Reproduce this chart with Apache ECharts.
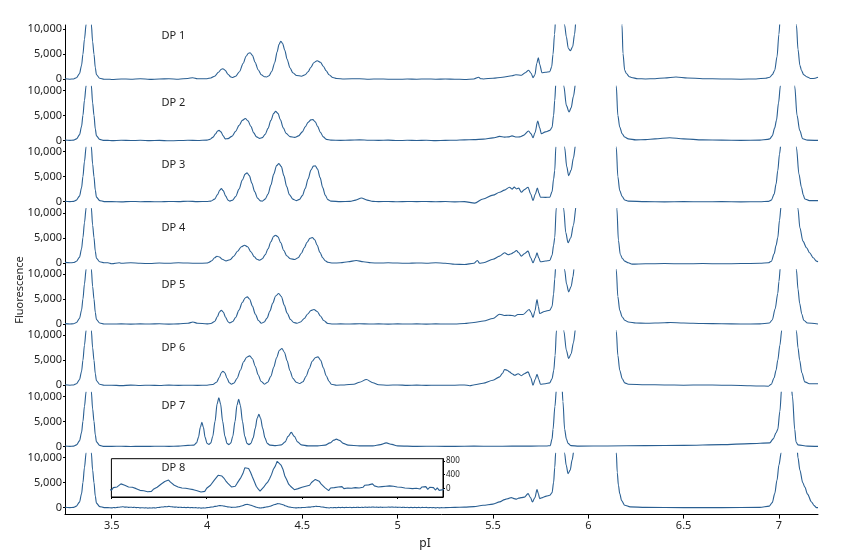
<!DOCTYPE html>
<html>
<head>
<meta charset="utf-8">
<script src="https://cdn.jsdelivr.net/npm/echarts@6/dist/echarts.min.js"></script>
<style>
html,body{margin:0;padding:0;background:#fff;}
#chart{width:862px;height:556px;}
</style>
</head>
<body>
<div id="chart"></div>
<script>
// ---------------- DATA ----------------
const panelNames = ['DP 1', 'DP 2', 'DP 3', 'DP 4', 'DP 5', 'DP 6', 'DP 7', 'DP 8'];
const xTickValues = [3.5, 4, 4.5, 5, 5.5, 6, 6.5, 7];
const yTickValues = [0, 5000, 10000];
const insetTickValues = [0, 400, 800];
const insetXTicks = [3.5, 4, 4.5, 5];

// pI 3.38 marker peak (common to all traces)
const markerPeak = [[3.255, 80], [3.28, 0], [3.30, 50], [3.315, 300], [3.331, 1100], [3.342, 2800], [3.349, 5000], [3.357, 8000], [3.366, 11000], [3.379, 22000], [3.393, 11000], [3.400, 7500], [3.407, 5000], [3.414, 2300], [3.42, 900], [3.437, 200], [3.46, 0]];

const dp1 = [[3.5, -50], [3.55, 50], [3.6, 0], [3.65, 80], [3.7, -30], [3.75, 40], [3.8, 100], [3.85, 0], [3.9, 150], [3.925, 300], [3.95, 100], [4.0, 100],
  [4.02, 250], [4.04, 600], [4.06, 1400], [4.075, 2000], [4.083, 2100], [4.095, 1800], [4.11, 1000], [4.125, 450], [4.135, 350], [4.15, 600], [4.17, 1500], [4.19, 3200], [4.205, 4600], [4.217, 5200], [4.226, 5300], [4.238, 4800], [4.252, 3400], [4.268, 1900], [4.285, 900], [4.30, 500], [4.312, 450], [4.325, 700], [4.34, 1600], [4.355, 3300], [4.368, 5500], [4.378, 7000], [4.387, 7600], [4.396, 7200], [4.408, 5800], [4.42, 4000], [4.435, 2300], [4.45, 1300], [4.47, 750], [4.495, 600], [4.515, 900], [4.53, 1500], [4.545, 2400], [4.56, 3300], [4.578, 3700], [4.595, 3400], [4.61, 2600], [4.625, 1700], [4.64, 900], [4.66, 350], [4.68, 150], [4.72, 50], [4.8, 100], [4.85, 0],
  [4.9, 50], [4.95, 0], [5.0, -20], [5.05, 30], [5.1, 0], [5.15, 50], [5.2, 0], [5.25, 30], [5.3, 0], [5.35, -50], [5.4, 50], [5.425, 400], [5.435, 100], [5.45, 50], [5.5, 200], [5.55, 400], [5.6, 700], [5.62, 900], [5.65, 800], [5.67, 1300], [5.687, 1800], [5.7, 1200], [5.71, 300], [5.72, 900], [5.73, 3200], [5.738, 4300], [5.745, 3000], [5.757, 1300], [5.775, 1400], [5.798, 1500], [5.808, 2500], [5.815, 5000], [5.823, 9000], [5.83, 13000], [5.85, 30000], [5.87, 12000], [5.876, 10800], [5.885, 8470], [5.895, 6200], [5.906, 5700], [5.918, 6500], [5.928, 9000], [5.936, 12000], [5.95, 40000], [6.1, 40000], [6.17, 16000], [6.177, 10800], [6.182, 5130], [6.191, 1800], [6.2, 1130], [6.215, 500], [6.226, 340], [6.26, 100], [6.3, 50], [6.35, 100], [6.4, 250], [6.46, 450], [6.52, 250], [6.6, 100], [6.7, 50], [6.8, 0], [6.88, 50], [6.93, 200], [6.952, 400], [6.965, 900], [6.978, 1800], [6.99, 4500], [7.0, 9000], [7.008, 13000], [7.045, 40000], [7.085, 14000], [7.092, 10800], [7.1, 6000], [7.11, 2800], [7.118, 1800], [7.13, 900], [7.145, 500], [7.153, 400], [7.165, 150], [7.18, 150], [7.205, 400]];

const dp2 = [[3.5, -50], [3.55, 30], [3.6, -30], [3.65, 20], [3.7, -50], [3.75, 0], [3.8, -80], [3.85, -30], [3.9, 20], [3.95, -20], [4.0, 50],
  [4.015, 200], [4.03, 600], [4.045, 1300], [4.055, 1850], [4.063, 2000], [4.073, 1700], [4.085, 900], [4.096, 300], [4.11, 350], [4.13, 800], [4.15, 1800], [4.168, 3000], [4.185, 4000], [4.201, 4370], [4.215, 3900], [4.23, 2800], [4.245, 1500], [4.26, 700], [4.276, 400], [4.29, 550], [4.305, 1200], [4.32, 2400], [4.335, 4000], [4.35, 5400], [4.36, 5800], [4.372, 5400], [4.385, 4100], [4.4, 2500], [4.415, 1400], [4.435, 750], [4.46, 600], [4.48, 900], [4.5, 1700], [4.515, 2700], [4.53, 3600], [4.545, 4100], [4.555, 4150], [4.568, 3700], [4.58, 2800], [4.595, 1600], [4.61, 700], [4.626, 200], [4.65, 50], [4.7, 0], [4.75, 50], [4.8, 100], [4.85, 30], [4.9, 0], [4.95, 50], [5.0, -30], [5.05, 20], [5.1, -20], [5.15, 30], [5.2, -40], [5.25, 0], [5.3, 30], [5.35, 100], [5.4, 150], [5.45, 250], [5.5, 500], [5.535, 800], [5.56, 650], [5.58, 700], [5.6, 900], [5.623, 670], [5.64, 700], [5.66, 1000], [5.687, 1870], [5.7, 1300], [5.71, 530], [5.72, 1500], [5.735, 3870], [5.745, 2500], [5.754, 1330], [5.775, 1700], [5.798, 2000], [5.81, 2600], [5.818, 5000], [5.824, 8000], [5.83, 11500], [5.85, 30000], [5.868, 12000], [5.872, 10800], [5.885, 7000], [5.899, 5670], [5.91, 6500], [5.922, 8800], [5.934, 11500], [5.95, 40000], [6.1, 40000], [6.14, 16000], [6.147, 10800], [6.155, 5000], [6.165, 2670], [6.178, 1300], [6.191, 670], [6.21, 300], [6.25, 100], [6.3, 150], [6.35, 300], [6.427, 530], [6.5, 300], [6.6, 100], [6.7, 50], [6.8, 0], [6.9, 50], [6.94, 200], [6.952, 300], [6.965, 900], [6.978, 2500], [6.987, 4000], [6.998, 7500], [7.008, 11000], [7.045, 40000], [7.078, 13000], [7.083, 10800], [7.095, 5000], [7.109, 2000], [7.125, 330], [7.15, 50], [7.205, 0]];

const dp3 = [[3.5, 0], [3.55, -50], [3.6, 30], [3.65, -20], [3.7, 0], [3.75, -40], [3.8, 30], [3.85, 0], [3.9, 80], [3.95, 0], [4.0, 30],
  [4.02, 100], [4.04, 500], [4.055, 1400], [4.067, 2300], [4.075, 2600], [4.085, 2200], [4.098, 1100], [4.11, 300], [4.12, 100], [4.135, 300], [4.15, 1000], [4.168, 2500], [4.185, 4300], [4.2, 5500], [4.21, 5740], [4.222, 5200], [4.235, 3700], [4.25, 2000], [4.265, 700], [4.28, 150], [4.29, 100], [4.305, 500], [4.32, 1500], [4.335, 3300], [4.35, 5500], [4.365, 7200], [4.377, 7600], [4.39, 7000], [4.403, 5200], [4.418, 3000], [4.432, 1400], [4.45, 500], [4.468, 200], [4.485, 450], [4.5, 1200], [4.515, 2600], [4.53, 4500], [4.545, 6300], [4.558, 7100], [4.568, 7150], [4.58, 6500], [4.593, 4800], [4.607, 2800], [4.62, 1300], [4.634, 400], [4.65, 100], [4.7, 0], [4.75, 50], [4.78, 300], [4.81, 730], [4.84, 300], [4.87, 50], [4.9, 0], [4.95, 30], [5.0, -40], [5.05, 20], [5.1, 0], [5.15, 30], [5.2, -30], [5.25, 10], [5.3, -50], [5.35, 0], [5.404, -300], [5.448, 530], [5.5, 1300], [5.535, 1870], [5.56, 2300], [5.587, 2870], [5.6, 2500], [5.612, 2900], [5.623, 2530], [5.635, 2700], [5.649, 1870], [5.665, 2400], [5.684, 2870], [5.698, 1500], [5.71, 200], [5.722, 1500], [5.733, 2730], [5.741, 1700], [5.749, 870], [5.775, 850], [5.798, 870], [5.81, 2000], [5.818, 4500], [5.824, 6200], [5.83, 11000], [5.85, 30000], [5.872, 12000], [5.876, 10800], [5.887, 7000], [5.897, 5200], [5.91, 6300], [5.922, 8700], [5.934, 11500], [5.95, 40000], [6.1, 40000], [6.14, 16000], [6.147, 10800], [6.155, 5000], [6.165, 2200], [6.178, 1000], [6.191, 330], [6.21, 100], [6.3, 0], [6.4, -50], [6.5, 0], [6.6, -30], [6.7, 0], [6.8, -50], [6.9, -20], [6.945, 50], [6.96, 300], [6.975, 1500], [6.985, 3500], [6.994, 6200], [7.003, 9500], [7.012, 12000], [7.05, 40000], [7.088, 12000], [7.092, 10800], [7.105, 5500], [7.118, 2870], [7.128, 1300], [7.136, 530], [7.16, 200], [7.205, 200]];

const dp4 = [[3.5, -200], [3.54, 0], [3.55, -100], [3.6, 0], [3.65, -100], [3.7, -150], [3.75, -50], [3.8, -100], [3.85, 0], [3.9, -50], [3.95, -100], [4.0, -50],
  [4.01, 100], [4.025, 400], [4.04, 1000], [4.052, 1320], [4.065, 1150], [4.08, 700], [4.1, 380], [4.12, 600], [4.14, 1300], [4.16, 2300], [4.18, 3200], [4.197, 3520], [4.213, 3200], [4.23, 2200], [4.248, 1200], [4.262, 700], [4.276, 520], [4.29, 800], [4.305, 1600], [4.32, 2800], [4.335, 4200], [4.35, 5300], [4.36, 5520], [4.372, 5200], [4.387, 4000], [4.402, 2500], [4.418, 1400], [4.438, 800], [4.46, 660], [4.478, 1000], [4.495, 1900], [4.51, 3000], [4.525, 4100], [4.54, 4900], [4.552, 5060], [4.565, 4600], [4.578, 3500], [4.592, 2100], [4.607, 1000], [4.62, 400], [4.634, 100], [4.66, -50], [4.7, 0], [4.74, 200], [4.783, 470], [4.82, 200], [4.86, 0], [4.9, -50], [4.95, 0], [5.0, -50], [5.05, -100], [5.1, -30], [5.15, -80], [5.2, 0], [5.25, -100], [5.3, -300], [5.35, -330], [5.4, -100], [5.418, 470], [5.43, -100], [5.45, 0], [5.5, 700], [5.535, 1330], [5.561, 2000], [5.58, 1600], [5.596, 1800], [5.61, 2100], [5.623, 2470], [5.635, 2000], [5.649, 1330], [5.665, 1800], [5.684, 2330], [5.698, 1000], [5.71, 0], [5.722, 1000], [5.731, 2000], [5.74, 1000], [5.749, 200], [5.775, 350], [5.798, 470], [5.81, 1500], [5.818, 3500], [5.824, 5000], [5.832, 11000], [5.85, 30000], [5.868, 12000], [5.871, 10800], [5.882, 6000], [5.894, 4000], [5.908, 5000], [5.922, 7500], [5.937, 11500], [5.95, 40000], [6.1, 40000], [6.145, 16000], [6.15, 10800], [6.158, 4500], [6.168, 1670], [6.18, 800], [6.191, 330], [6.21, 0], [6.23, -270], [6.3, -200], [6.4, -150], [6.5, -200], [6.6, -150], [6.7, -200], [6.8, -150], [6.9, -100], [6.945, 0], [6.96, 300], [6.975, 1800], [6.985, 3500], [6.994, 5000], [7.003, 8500], [7.012, 11500], [7.05, 40000], [7.095, 13000], [7.1, 10800], [7.11, 7000], [7.126, 4330], [7.145, 3000], [7.161, 2000], [7.18, 1000], [7.197, 330], [7.205, 200]];

const dp5 = [[3.5, 0], [3.55, 30], [3.6, -20], [3.65, 20], [3.7, 0], [3.75, 40], [3.8, -20], [3.85, 30], [3.9, 150], [3.926, 400], [3.95, 150], [4.0, 30],
  [4.02, 100], [4.04, 500], [4.055, 1500], [4.065, 2400], [4.075, 2760], [4.085, 2400], [4.098, 1300], [4.11, 450], [4.119, 230], [4.135, 500], [4.15, 1300], [4.168, 2800], [4.185, 4300], [4.2, 5200], [4.211, 5430], [4.223, 5000], [4.238, 3600], [4.253, 2000], [4.27, 700], [4.285, 150], [4.3, 400], [4.315, 1200], [4.33, 2600], [4.345, 4200], [4.36, 5600], [4.376, 6100], [4.39, 5500], [4.405, 3800], [4.42, 2200], [4.438, 900], [4.455, 300], [4.472, 150], [4.49, 400], [4.51, 1100], [4.528, 2000], [4.545, 2700], [4.561, 2890], [4.578, 2500], [4.595, 1600], [4.612, 700], [4.634, 100], [4.66, 0], [4.7, 30], [4.75, 0], [4.8, 50], [4.85, 0], [4.9, 30], [4.95, -20], [5.0, 20], [5.05, 0], [5.1, 30], [5.15, -20], [5.2, 20], [5.25, 0],
  [5.3, 0], [5.35, 100], [5.4, 300], [5.45, 600], [5.5, 1100], [5.535, 1960], [5.56, 1700], [5.579, 1760], [5.6, 1700], [5.614, 1560], [5.63, 1900], [5.658, 1900], [5.69, 2900], [5.7, 2300], [5.71, 1290], [5.72, 2600], [5.731, 4900], [5.738, 3500], [5.745, 2090], [5.77, 2500], [5.798, 2760], [5.81, 3500], [5.818, 6000], [5.824, 9000], [5.829, 11500], [5.85, 30000], [5.872, 12000], [5.876, 10800], [5.886, 8000], [5.897, 6430], [5.91, 7500], [5.92, 9500], [5.925, 11000], [5.95, 40000], [6.1, 40000], [6.14, 16000], [6.147, 10800], [6.155, 5500], [6.165, 2760], [6.178, 1400], [6.191, 760], [6.21, 400], [6.25, 200], [6.3, 150], [6.4, 250], [6.43, 300], [6.5, 200], [6.6, 100], [6.7, 50], [6.8, 0], [6.9, 30], [6.95, 200], [6.965, 800], [6.98, 3000], [6.994, 6100], [7.0, 8500], [7.008, 11500], [7.045, 40000], [7.088, 12000], [7.092, 10800], [7.1, 7000], [7.109, 4100], [7.12, 2000], [7.13, 760], [7.15, 200], [7.205, 0]];

const dp6 = [[3.5, 0], [3.55, -80], [3.6, 20], [3.65, -50], [3.7, 0], [3.75, -60], [3.8, 10], [3.85, -40], [3.9, 0], [3.95, -30], [4.0, 0],
  [4.03, 150], [4.05, 600], [4.065, 1600], [4.075, 2500], [4.083, 2800], [4.093, 2500], [4.105, 1400], [4.117, 500], [4.128, 200], [4.142, 450], [4.158, 1400], [4.175, 3000], [4.192, 4700], [4.208, 5600], [4.224, 5870], [4.238, 5300], [4.253, 3800], [4.268, 2100], [4.283, 800], [4.302, 200], [4.318, 600], [4.335, 1800], [4.35, 3600], [4.365, 5500], [4.38, 7000], [4.393, 7330], [4.406, 6600], [4.42, 4900], [4.435, 2900], [4.45, 1400], [4.468, 600], [4.486, 330], [4.503, 700], [4.52, 1800], [4.536, 3300], [4.552, 4800], [4.568, 5500], [4.582, 5670], [4.596, 5000], [4.61, 3500], [4.625, 1900], [4.64, 800], [4.652, 200], [4.68, 0], [4.72, 50], [4.77, 200], [4.8, 600], [4.836, 1130], [4.87, 500], [4.9, 100], [4.95, 0], [5.0, 50], [5.05, -30], [5.1, 20], [5.15, -40], [5.2, 0], [5.25, -20],
  [5.3, 0], [5.35, 50], [5.378, -100], [5.404, 100], [5.448, 400], [5.5, 1000], [5.535, 1670], [5.55, 2400], [5.561, 3130], [5.575, 3000], [5.587, 2670], [5.6, 2300], [5.614, 2000], [5.632, 2300], [5.649, 1900], [5.665, 2300], [5.684, 2670], [5.698, 1500], [5.71, 0], [5.722, 1200], [5.731, 2200], [5.74, 1200], [5.749, 200], [5.775, 300], [5.798, 470], [5.81, 1300], [5.819, 3000], [5.826, 6000], [5.833, 11000], [5.85, 30000], [5.868, 12000], [5.872, 10800], [5.885, 7000], [5.897, 5330], [5.91, 6300], [5.922, 8500], [5.934, 11500], [5.95, 40000], [6.1, 40000], [6.14, 16000], [6.147, 10800], [6.155, 6000], [6.165, 3000], [6.178, 1300], [6.191, 470], [6.21, 200], [6.3, 100], [6.4, 50], [6.5, 0], [6.6, 50], [6.7, 0], [6.8, -50], [6.9, -150], [6.945, -200], [6.96, 200], [6.975, 1500], [6.985, 3000], [6.994, 5000], [7.005, 8000], [7.015, 11000], [7.05, 40000], [7.088, 12000], [7.092, 10800], [7.1, 7500], [7.109, 5000], [7.12, 2500], [7.136, 670], [7.16, 300], [7.205, 300]];

const dp7 = [[3.5, 0], [3.55, 30], [3.6, -20], [3.65, 20], [3.7, 0], [3.75, 30], [3.8, 0], [3.85, 50], [3.9, 200], [3.93, 250],
  [3.945, 700], [3.955, 1800], [3.965, 3800], [3.973, 4800], [3.981, 3800], [3.99, 1800], [4.0, 600], [4.01, 400], [4.02, 700], [4.03, 2000], [4.042, 5000], [4.053, 8500], [4.062, 9700], [4.071, 8500], [4.082, 5000], [4.094, 2000], [4.105, 600], [4.115, 350], [4.125, 700], [4.135, 2000], [4.147, 5000], [4.157, 8200], [4.166, 9400], [4.175, 8200], [4.186, 5000], [4.198, 2000], [4.21, 600], [4.22, 350], [4.23, 600], [4.242, 1700], [4.253, 3600], [4.263, 5600], [4.272, 6400], [4.281, 5600], [4.292, 3600], [4.304, 1700], [4.316, 600], [4.33, 250], [4.36, 150], [4.39, 300], [4.41, 900], [4.425, 2000], [4.442, 2800], [4.458, 2000], [4.475, 900], [4.495, 300], [4.53, 100], [4.58, 100], [4.62, 250], [4.645, 700], [4.665, 1250], [4.678, 1450], [4.695, 1200], [4.715, 600], [4.74, 250], [4.8, 100], [4.87, 100], [4.91, 350], [4.94, 700], [4.97, 400], [5.0, 100], [5.1, 0], [5.2, 30], [5.3, 0], [5.4, 50], [5.5, 20], [5.6, 60], [5.7, 50], [5.78, 80],
  [5.8, 150], [5.81, 1500], [5.815, 3400], [5.825, 8000], [5.833, 11500], [5.85, 22000], [5.862, 12000], [5.867, 9000], [5.876, 3400], [5.885, 1500], [5.894, 600], [5.91, 150], [5.95, 50], [6.1, 80], [6.3, 150], [6.5, 200], [6.7, 350], [6.85, 550], [6.952, 700], [6.97, 1500], [6.985, 2700], [6.994, 3400], [7.005, 7000], [7.015, 12000], [7.045, 25000], [7.065, 12000], [7.071, 10000], [7.083, 3400], [7.09, 870], [7.1, 300], [7.15, 50], [7.205, 0]];

const dp8FineStart = 3.5;
const dp8FineStep = 0.01;
const dp8FineValues = [
  -60, 20, -30, 40, 80, 130, 180, 90, 110, 40,
  80, 30, 60, -10, 30, -60, -20, -70, -40, -100,
  -50, -90, -30, -70, 30, 40, 120, 110, 200, 170,
  240, 180, 150, 90, 110, 40, 70, 10, 50, 0,
  40, -20, 20, -40, -10, -70, -40, -110, -60, -90,
  0, 20, 90, 130, 240, 260, 380, 400, 360, 300,
  220, 150, 120, 40, 80, 60, 150, 200, 320, 430,
  600, 640, 580, 470, 330, 200, 60, -20, -80, -40,
  40, 120, 180, 280, 400, 560, 650, 790, 760, 680,
  560, 360, 250, 120, 60, 10, -40, -60, -10, -30,
  30, 10, 60, 100, 90, 170, 200, 260, 220, 210,
  130, 90, 20, -20, -70, 10, -40, 20, -30, 40,
  0, 50, -10, 40, 10, 60, 0, 50, 20, 70,
  10, 60, 30, 90, 50, 100, 60, 130, 70, 100,
  40, 90, 50, 80, 60, 110, 70, 120, 60, 90,
  40, 80, 30, 70, 10, 60, 0, 50, -10, 40,
  0, 50, -20, 40, 10, 50, -30, 30, -20, 20,
  -50, 10, -60, -10, -40];
const dp8Right = [[5.25, 0], [5.3, 50], [5.35, 100], [5.4, 200], [5.448, 470], [5.5, 700], [5.535, 1140], [5.561, 1600], [5.58, 1800], [5.596, 2000], [5.61, 1800], [5.623, 1700], [5.635, 1900], [5.649, 2000], [5.665, 2100], [5.684, 2800], [5.697, 2000], [5.707, 1130], [5.72, 2000], [5.731, 3600], [5.738, 2800], [5.745, 1800], [5.76, 2000], [5.78, 2300], [5.798, 2470], [5.81, 3000], [5.818, 5000], [5.824, 8000], [5.829, 11000], [5.85, 30000], [5.872, 12000], [5.876, 10800], [5.884, 8500], [5.894, 6800], [5.905, 7500], [5.915, 9500], [5.925, 11500], [5.95, 40000], [6.1, 40000], [6.14, 20000], [6.147, 11000], [6.152, 7000], [6.158, 4500], [6.165, 2800], [6.175, 1400], [6.191, 470], [6.22, 150], [6.3, 50], [6.5, 0], [6.7, 0], [6.9, 50], [6.95, 300], [6.965, 1000], [6.978, 2800], [6.99, 5500], [7.0, 8500], [7.012, 11000], [7.05, 40000], [7.095, 12000], [7.1, 10000], [7.11, 7500], [7.125, 5000], [7.136, 4100], [7.15, 2700], [7.171, 1130], [7.185, 400], [7.197, 0], [7.205, 0]];

// ---------------- BUILD ----------------
const dp8Fine = dp8FineValues.map((v, i) => [+(dp8FineStart + dp8FineStep * i).toFixed(2), v]);
const traces = [dp1, dp2, dp3, dp4, dp5, dp6, dp7].map(t => markerPeak.concat([[3.48, 0]], t));
traces.push(markerPeak.concat([[3.48, 0]], dp8Fine, dp8Right));

// ---------------- LAYOUT ----------------
const LEFT = 65, RIGHT = 44, TOP0 = 25, PH = 61.2;
const X_MIN = 3.255, X_MAX = 7.205;
const Y_MIN = -1400, Y_MAX = 10840;
const LINE = '#2a5f92';
const FONT = 'Noto Sans';
const labelCenters = [36, 103, 165, 228, 285, 348, 406, 468];

const grids = [], xAxes = [], yAxes = [], series = [];
for (let i = 0; i < 8; i++) {
  const last = i === 7;
  grids.push({ left: LEFT, right: RIGHT, top: TOP0 + PH * i, height: PH, containLabel: false });
  xAxes.push({
    type: 'value', gridIndex: i, min: X_MIN, max: X_MAX, show: last, position: 'bottom',
    axisLine: { show: true, onZero: false, lineStyle: { color: '#000', width: 1 } },
    axisTick: { show: true, length: 4, inside: false, customValues: xTickValues, lineStyle: { color: '#000' } },
    axisLabel: { show: true, customValues: xTickValues, fontSize: 11, fontFamily: FONT, color: '#222', margin: 6 },
    splitLine: { show: false }
  });
  yAxes.push({
    type: 'value', gridIndex: i, min: Y_MIN, max: Y_MAX,
    axisLine: { show: true, onZero: false, lineStyle: { color: '#000', width: 1 } },
    axisTick: { show: true, length: 2, customValues: yTickValues, lineStyle: { color: '#000' } },
    axisLabel: { show: true, customValues: yTickValues, fontSize: 11, fontFamily: FONT, color: '#222', margin: 3,
      formatter: v => Number(v).toLocaleString('en-US') },
    splitLine: { show: false }
  });
  series.push({
    type: 'line', xAxisIndex: i, yAxisIndex: i, data: traces[i], showSymbol: false, symbol: 'none',
    smooth: 0.3, smoothMonotone: 'x',
    clip: true, lineStyle: { color: LINE, width: 1.1 }, silent: true
  });
}

// inset in DP 8 panel
grids.push({ left: 111.4, top: 458.7, width: 331.6, height: 38.3, show: true, borderColor: '#000', borderWidth: 1, backgroundColor: '#fff', z: 5 });
xAxes.push({
  type: 'value', gridIndex: 8, min: 3.5, max: 5.24, z: 6, position: 'bottom',
  axisLine: { show: true, onZero: false, lineStyle: { color: '#000' } },
  axisTick: { show: true, length: 2, customValues: insetXTicks, lineStyle: { color: '#000' } },
  axisLabel: { show: false }, splitLine: { show: false }
});
yAxes.push({
  type: 'value', gridIndex: 8, min: -255, max: 867, position: 'right', z: 6,
  axisLine: { show: true, onZero: false, lineStyle: { color: '#000' } },
  axisTick: { show: true, length: 2, customValues: insetTickValues, lineStyle: { color: '#000' } },
  axisLabel: { show: true, customValues: insetTickValues, fontSize: 8, fontFamily: FONT, color: '#222', margin: 3 },
  splitLine: { show: false }
});
series.push({
  type: 'line', xAxisIndex: 8, yAxisIndex: 8, data: traces[7], showSymbol: false, symbol: 'none', z: 7,
  clip: true, lineStyle: { color: LINE, width: 1.1 }, silent: true
});

const graphic = [
  { type: 'text', x: 20, y: 290, rotation: Math.PI / 2,
    style: { text: 'Fluorescence', fontSize: 11, fontFamily: FONT, fill: '#222', align: 'center', verticalAlign: 'middle' } },
  { type: 'text', x: 425, y: 544,
    style: { text: 'pI', fontSize: 12, fontFamily: FONT, fill: '#222', align: 'center', verticalAlign: 'middle' } }
];
panelNames.forEach((name, i) => {
  graphic.push({ type: 'text', x: 161.5, y: labelCenters[i], z: 10,
    style: { text: name, fontSize: 11, fontFamily: FONT, fill: '#222', align: 'left', verticalAlign: 'middle' } });
});

const chart = echarts.init(document.getElementById('chart'), null, { renderer: 'canvas' });
chart.setOption({
  animation: false,
  backgroundColor: '#fff',
  grid: grids, xAxis: xAxes, yAxis: yAxes, series: series, graphic: graphic
});
</script>
</body>
</html>
